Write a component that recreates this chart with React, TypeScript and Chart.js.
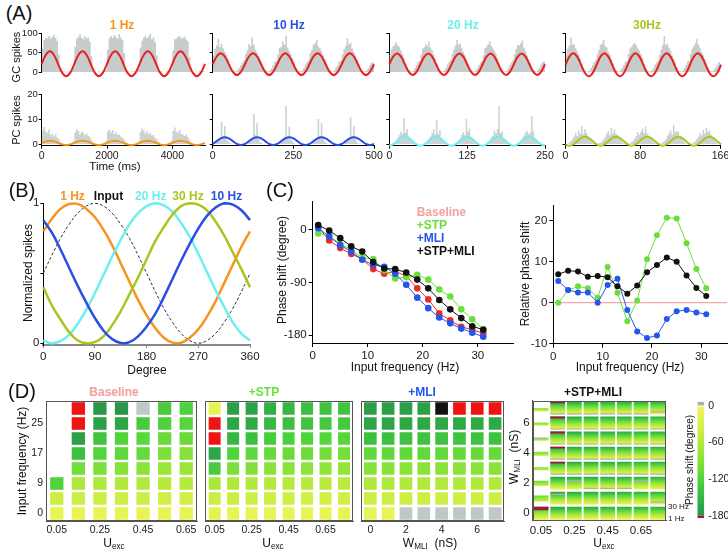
import React, { useEffect, useRef } from 'react';
import { Chart, registerables } from 'chart.js';

Chart.register(...registerables);
const FONT = '"Liberation Sans", Arial, Helvetica, sans-serif';
Chart.defaults.font.family = FONT;
Chart.defaults.color = '#1a1a1a';

const ORANGE = '#F7941D';
const BLUE = '#2A4FE4';
const CYAN = '#6EEFEF';
const OLIVE = '#A8C61F';
const RED = '#E8231F';
const SALMON = '#F4A0A0';
const GREEN = '#6ADF3A';
const CBLUE = '#2456EE';
const GRAYH = '#C6CCCC';

/* ================= Panel A data ================= */
const aTitles = ['1 Hz', '10 Hz', '20 Hz', '30Hz'];
const aColors = [ORANGE, BLUE, CYAN, OLIVE];
const aFreqHz = [1, 10, 20, 30];
const aWindowMs = [5000, 500, 250, 166];
const aTimeTicks = [[0, 2000, 4000], [0, 250, 500], [0, 125, 250], [0, 80, 166]];
const aGcTicks = [0, 50, 100];
const aPcTicks = [0, 10, 20];

// fitted GC sine (sampled every 1/8 cycle)
const gcSine1Hz = [21,43.6,53,43.6,21,-1.6,-11,-1.6,21,43.6,53,43.6,21,-1.6,-11,-1.6,21,43.6,53,43.6,21,-1.6,-11,-1.6,21,43.6,53,43.6,21,-1.6,-11,-1.6,21,43.6,53,43.6,21,-1.6,-11,-1.6,21];
const gcSine10Hz = [20,39.8,48,39.8,20,0.2,-8,0.2,20,39.8,48,39.8,20,0.2,-8,0.2,20,39.8,48,39.8,20,0.2,-8,0.2,20,39.8,48,39.8,20,0.2,-8,0.2,20,39.8,48,39.8,20,0.2,-8,0.2,20];
const gcSine20Hz = [20,39.5,47.5,39.5,20,0.5,-7.5,0.5,20,39.5,47.5,39.5,20,0.5,-7.5,0.5,20,39.5,47.5,39.5,20,0.5,-7.5,0.5,20,39.5,47.5,39.5,20,0.5,-7.5,0.5,20,39.5,47.5,39.5,20,0.5,-7.5,0.5,20];
const gcSine30Hz = [18.5,39.4,48,39.4,18.5,-2.4,-11,-2.4,18.5,39.4,48,39.4,18.5,-2.4,-11,-2.4,18.5,39.4,48,39.4,18.5,-2.4,-11,-2.4,18.5,39.4,48,39.4,18.5,-2.4,-11,-2.4,18.5,39.4,48,39.4,18.5,-2.4,-11,-2.4,18.5];
// fitted PC sine
const pcSine1Hz = [0.45,1.05,1.3,1.05,0.45,-0.15,-0.4,-0.15,0.45,1.05,1.3,1.05,0.45,-0.15,-0.4,-0.15,0.45,1.05,1.3,1.05,0.45,-0.15,-0.4,-0.15,0.45,1.05,1.3,1.05,0.45,-0.15,-0.4,-0.15,0.45,1.05,1.3,1.05,0.45,-0.15,-0.4,-0.15,0.45];
const pcSine10Hz = [0.05,1.15,2.25,2.7,2.25,1.15,0.05,-0.4,0.05,1.15,2.25,2.7,2.25,1.15,0.05,-0.4,0.05,1.15,2.25,2.7,2.25,1.15,0.05,-0.4,0.05,1.15,2.25,2.7,2.25,1.15,0.05,-0.4,0.05,1.15,2.25,2.7,2.25,1.15,0.05,-0.4,0.05];
const pcSine20Hz = [-0.7,-0.17,1.1,2.37,2.9,2.37,1.1,-0.17,-0.7,-0.17,1.1,2.37,2.9,2.37,1.1,-0.17,-0.7,-0.17,1.1,2.37,2.9,2.37,1.1,-0.17,-0.7,-0.17,1.1,2.37,2.9,2.37,1.1,-0.17,-0.7,-0.17,1.1,2.37,2.9,2.37,1.1,-0.17,-0.7];
const pcSine30Hz = [-0.17,-0.7,-0.17,1.1,2.37,2.9,2.37,1.1,-0.17,-0.7,-0.17,1.1,2.37,2.9,2.37,1.1,-0.17,-0.7,-0.17,1.1,2.37,2.9,2.37,1.1,-0.17,-0.7,-0.17,1.1,2.37,2.9,2.37,1.1,-0.17,-0.7,-0.17,1.1,2.37,2.9,2.37,1.1,-0.17];

// spike histograms (20 bins per cycle)
const gcHist1Hz = [
8,60,82,88,86,92,85,90,94,87,80,45,6,2,1,1,0,1,2,3,
10,65,85,90,97,88,84,92,86,90,78,40,4,1,0,1,1,0,2,3,
6,58,88,92,87,95,90,85,97,88,82,48,8,2,1,0,1,1,1,2,
9,62,80,87,93,86,91,98,84,89,76,42,5,1,1,0,0,1,2,3,
7,55,84,86,90,92,85,88,91,83,79,38,6,1,0,1,0,1,2,2];
const gcHist10Hz = [
28,42,60,68,85,64,72,60,52,44,33,20,10,5,2,2,5,11,18,24,
30,46,55,72,66,88,70,58,50,41,30,21,12,6,3,1,4,9,17,26,
27,44,62,65,78,70,92,63,54,46,36,24,13,6,2,2,4,10,19,25,
31,48,57,70,74,83,66,61,53,43,34,22,11,5,3,1,5,12,18,27,
29,45,59,67,86,71,75,60,51,42,32,19,10,4,2,2,4,10,17,24];
const gcHist20Hz = [
30,45,58,66,70,77,68,64,55,46,35,22,12,6,3,2,4,10,18,25,
28,44,60,64,72,66,78,62,56,45,34,21,11,5,2,2,5,11,19,26,
31,47,57,68,82,70,74,63,52,44,33,20,10,5,3,1,4,9,17,24,
29,43,61,65,71,79,67,60,54,47,36,23,12,6,2,2,4,10,18,25,
30,46,59,70,68,74,80,62,53,43,32,21,11,4,3,1,5,11,19,26];
const gcHist30Hz = [
29,44,60,67,88,70,72,61,53,44,34,21,11,5,2,2,4,10,18,25,
31,45,57,69,73,82,66,63,52,45,33,22,12,6,3,1,5,11,17,26,
28,46,61,64,71,75,68,60,55,46,35,20,10,5,2,2,4,9,19,24,
30,43,58,70,92,69,73,62,54,43,32,23,11,4,3,1,4,10,18,27,
29,47,60,66,74,85,70,61,51,44,34,21,12,6,2,2,5,11,17,25];
const pcHist1Hz = [
1.2,5.5,6.8,5,4.5,5.8,3.6,4.2,3,4,2.6,2,0.8,0.2,0,0,0,0,0,0.2,
1,4.6,6,5.2,3.8,5,4.4,3.5,4.2,3.2,2.8,1.6,0.6,0,0,0,0,0,0.1,0.3,
1.4,5,5.8,4.6,5.5,4,4.8,3.6,3.8,3,2.5,1.8,0.7,0.1,0,0,0,0,0,0.2,
1.1,4.8,6.2,5.4,4.2,5.2,3.8,4.5,3.4,3.6,2.4,1.9,0.9,0,0,0,0,0,0.1,0.2,
1.3,5.2,6.6,4.8,4.6,5.6,4,3.8,3.2,3.8,2.7,1.7,0.6,0.1,0,0,0,0,0,0.2];
const pcHist10Hz = [
0,0,0.3,0.8,1.5,2,8.9,3,7.2,2.2,1,0.5,0.2,0,0,0,0,0,0,0,
0,0,0.2,1,1.8,2.5,12,3.5,8.3,2,0.8,0.4,0,0,0,0,0,0,0,0,
0,0,0.4,0.7,2,3,15.2,2.8,7,1.8,1.2,0.3,0.1,0,0,0,0,0,0,0,
0,0.1,0.3,0.9,1.6,2.4,10,3.2,8.3,2.5,1,0.4,0,0,0,0,0,0,0,0,
0,0,0.2,0.8,1.4,2.6,10.7,3,7.2,2,0.9,0.3,0.1,0,0,0,0,0,0,0];
const pcHist20Hz = [
0,0,0,0.3,0.8,1.5,2.5,3.5,5,4,10.3,4.5,6,3,2,1,0.5,0.2,0,0,
0,0,0,0.2,0.6,1.2,2,3,4.5,6,3.8,9.5,4,5.5,2.5,1.2,0.4,0.1,0,0,
0,0,0,0.3,0.7,1.4,2.2,3.6,4.8,3.5,10,5,6.2,2.8,1.8,0.8,0.3,0,0,0,
0,0,0,0.2,0.9,1.6,2.6,3.2,5.5,4.2,6,15.2,4.4,5,2.2,1.1,0.5,0.1,0,0,
0,0,0.1,0.3,0.7,1.3,2.3,3.4,4.6,5.2,3.9,4.6,11.2,5.2,2.6,1.2,0.4,0.1,0,0];
const pcHist30Hz = [
0,0,0.2,0.6,1.2,2,3,4.5,3.2,5.5,4,7.2,3.8,6,4.5,3,2.2,1,0.4,0.1,
0,0.1,0.3,0.5,1,1.8,2.8,4,5.2,3.5,6.5,4.2,5.8,4,3.6,2.6,1.6,0.8,0.3,0,
0,0,0.2,0.7,1.3,2.2,3.2,4.8,3.6,5,6.2,4.4,7,4.2,3.4,2.8,1.8,0.9,0.3,0.1,
0,0.1,0.2,0.6,1.1,1.9,3.1,4.2,5.4,3.8,7.6,4.6,5.2,4.8,3.2,2.4,1.5,0.7,0.2,0,
0,0,0.3,0.5,1.2,2.1,2.9,4.4,3.4,5.6,4.2,6.4,4.8,5.5,3.8,2.9,1.7,0.8,0.3,0.1];

const gcSines = [gcSine1Hz, gcSine10Hz, gcSine20Hz, gcSine30Hz];
const pcSines = [pcSine1Hz, pcSine10Hz, pcSine20Hz, pcSine30Hz];
const gcHists = [gcHist1Hz, gcHist10Hz, gcHist20Hz, gcHist30Hz];
const pcHists = [pcHist1Hz, pcHist10Hz, pcHist20Hz, pcHist30Hz];

/* ================= Panel B data ================= */
const bDegree = [0,15,30,45,60,75,90,105,120,135,150,165,180,195,210,225,240,255,270,285,300,315,330,345,360];
const b1Hz = [0.8,0.89,0.96,0.995,0.996,0.96,0.9,0.81,0.7,0.57,0.44,0.31,0.2,0.11,0.04,0.005,0.004,0.04,0.1,0.19,0.3,0.43,0.56,0.69,0.8];
const bInput = [0.5,0.63,0.75,0.85,0.93,0.98,1,0.98,0.93,0.85,0.75,0.63,0.5,0.37,0.25,0.15,0.07,0.02,0,0.02,0.07,0.15,0.25,0.37,0.5];
const b20Hz = [0.02,0,0.015,0.06,0.14,0.24,0.36,0.49,0.62,0.74,0.85,0.93,0.98,1,0.985,0.94,0.86,0.76,0.64,0.51,0.38,0.26,0.15,0.07,0.02];
const b30Hz = [0.4,0.27,0.17,0.08,0.02,0,0.01,0.05,0.13,0.23,0.35,0.47,0.6,0.73,0.83,0.92,0.98,1,0.99,0.95,0.87,0.77,0.65,0.53,0.4];
const b10Hz = [0.88,0.79,0.67,0.54,0.41,0.29,0.18,0.09,0.03,0.002,0.008,0.05,0.12,0.21,0.33,0.46,0.59,0.71,0.82,0.91,0.97,1,0.99,0.95,0.88];
const bDegTicks = [0, 90, 180, 270, 360];

/* ================= Panel C data ================= */
const cFreq = [1,3,5,7,9,11,13,15,17,19,21,23,25,27,29,31];
const phaseBaseline = [5,-18,-31,-41,-50,-67,-75,-71,-79,-100,-119,-143,-155,-166,-171,-177];
const phaseSTP = [-6,-10,-24,-34,-47,-50,-69,-83,-81,-77,-85,-102,-114,-136,-153,-170];
const phaseMLI = [3,-11,-26,-37,-51,-60,-63,-75,-94,-116,-134,-150,-160,-169,-176,-183];
const phaseBoth = [8.6,-1,-14,-28,-37,-55,-66,-67,-73,-85,-100,-120,-136,-151,-165,-171];
const relSTP = [0,3,4,3.5,1.2,8.7,2.4,-4.5,0.5,10.6,16.4,20.7,20.5,14.5,8.2,3.5];
const relMLI = [5.3,3.1,2.5,2.5,0,4.3,5.8,-1.8,-7,-8.6,-8,-4,-2.1,-1.8,-2.4,-2.8];
const relBoth = [6.9,7.8,7.6,6.3,6.5,6.2,4,2.2,4.2,7.4,9.2,11,10,6.6,3.6,1.6];
const relBaseline = 0;
const cFreqTicks = [0, 10, 20, 30];
const cPhaseTicks = [-180, -90, 0];
const cRelTicks = [-10, 0, 10, 20];
const cRelRange = [0, 35.2];

/* ================= Panel D data ================= */
// phase shift (degree); rows from 29 Hz (top) to 1 Hz (bottom); 'R' red, 'G' gray, 'K' black, null empty
const dUexc = ['0.05','0.15','0.25','0.35','0.45','0.55','0.65','0.75'];
const dWmli = ['0','1','2','3','4','5','6','7'];
const dFreqLabels = ['0','5','9','13','17','21','25','29'];
const dLabelIdx = [0, 2, 4, 6];
const heatBaseline = [
  [null,'R',-178,-180,'G',-128,-122],
  [null,'R',-170,-165,-128,-122,-116],
  [null,-170,-135,-120,-114,-105,-105],
  [null,-140,-118,-112,-108,-95,-90],
  [null,-100,-95,-90,-85,-75,-75],
  [-120,-65,-65,-62,-62,-58,-58],
  [-40,-40,-40,-38,-38,-35,-35],
  [-10,-12,-12,-12,-10,-10,-10],
];
const heatSTP = [
  [-14,-172,-168,-155,-148,-142,-138,-135],
  ['R',-165,-160,-145,-140,-136,-132,-130],
  ['R',-148,-140,-128,-124,-120,-118,-116],
  [-165,-120,-112,-106,-104,-102,-100,-98],
  [-128,-96,-92,-88,-86,-84,-82,-80],
  [-68,-64,-62,-60,-59,-58,-57,-56],
  [-42,-40,-39,-38,-37,-36,-35,-35],
  [-15,-12,-12,-12,-11,-11,-10,-10],
];
const heatMLI = [
  [-172,-172,-170,-170,'K','R','R','R'],
  [-164,-164,-163,-163,-163,-162,-162,-162],
  [-140,-140,-138,-138,-138,-137,-137,-137],
  [-112,-110,-110,-110,-110,-108,-108,-108],
  [-88,-88,-87,-87,-87,-86,-86,-86],
  [-64,-63,-62,-62,-62,-62,-61,-61],
  [-40,-40,-39,-39,-39,-38,-38,-38],
  [-12,-12,'G','G','G','G','G','G'],
];
// +STP+MLI: per-cell phase gradient from 1 Hz (bottom) to 30 Hz (top)
const stpMliTop = [-150,-172,-168,-166,-165,-163,-160,-158];
const stpMliBottom = [-10,-8,-8,-8,-8,-8,-8,-8];
// filled span (fraction of cell, from bottom) of U=0.05 column, rows W=7..0
const stpMliCol0Span = [[0.25,0.5],[0.3,0.55],[0.3,0.5],[0.3,0.6],[0.33,0.57],[0.3,0.68],[0.25,0.7],[0,1]];
// dark-red (< -180) strip at the cell top: [column, W, fraction]
const stpMliRed = [[1,7,0.14],[1,6,0.14],[1,5,0.14],[1,4,0.14],[1,3,0.14],[0,0,0.28]];
// gray (positive) line position inside each cell, rows W=7..0 (0 = none)
const stpMliGray = [
  [0,0.04,0.04,0.04,0.04,0.04,0.04,0.2],
  [0,0.04,0.04,0.04,0.04,0.04,0.04,0.04],
  [0.5,0.04,0.04,0.04,0.04,0.04,0.04,0.04],
  [0,0.04,0.04,0.04,0.04,0.04,0.04,0.04],
  [0,0.04,0.04,0.04,0.04,0.04,0.04,0.04],
  [0,0,0.68,0.1,0.1,0.1,0.68,0],
  [0,0.8,0,0,0,0,0,0.2],
  [0,0,0,0,0,0,0,0],
];
const cbRange = [-180, 0];
const cbTicks = [0, -60, -120, -180];
const cbOver = [0, 6.9];
const cbUnder = [-183.7, -180];

/* ================= colour map ================= */
const cmapStops = [0, -30, -60, -90, -120, -150, -180];
const cmapColors = [[242,246,90],[216,240,72],[180,234,60],[132,226,56],[80,212,60],[52,180,68],[40,150,74]];
function cmap(v: number) {
  const t = Math.max(-180, Math.min(0, v));
  for (let i = 0; i < cmapStops.length - 1; i++) {
    const a = cmapStops[i], b = cmapStops[i + 1];
    if (t <= a && t >= b) {
      const k = (a - t) / (a - b);
      const ca = cmapColors[i], cb = cmapColors[i + 1];
      return `rgb(${Math.round(ca[0] + (cb[0] - ca[0]) * k)},${Math.round(ca[1] + (cb[1] - ca[1]) * k)},${Math.round(ca[2] + (cb[2] - ca[2]) * k)})`;
    }
  }
  return 'rgb(40,150,74)';
}
const cellColor = (v: any) => (v === 'R' ? '#EE1414' : v === 'K' ? '#111111' : v === 'G' ? '#BEC8C8' : cmap(v));

const gradFill = (ctx: any) => {
  const ch = ctx.chart;
  const raw = ctx.raw;
  if (!raw || !ch.chartArea || !ch.scales || !ch.scales.y) return 'rgba(0,0,0,0)';
  const ys = ch.scales.y;
  const p0 = ys.getPixelForValue(raw.y[0]);
  const p1 = ys.getPixelForValue(raw.y[1]);
  if (!isFinite(p0) || !isFinite(p1) || Math.abs(p0 - p1) < 0.01) return cmap(raw.v0);
  const g = ch.ctx.createLinearGradient(0, p0, 0, p1);
  for (let k = 0; k <= 8; k++) {
    const t = k / 8;
    g.addColorStop(t, cmap(raw.v0 + (raw.v1 - raw.v0) * t));
  }
  return g;
};

/* ================= helpers ================= */
type Rect = { l: number; t: number; r: number; b: number };

function frameFor(plot: Rect, pad: Rect) {
  const cl = Math.floor(plot.l - pad.l);
  const ct = Math.floor(plot.t - pad.t);
  const cr = Math.ceil(plot.r + pad.r);
  const cb = Math.ceil(plot.b + pad.b);
  return { cl, ct, cw: cr - cl, ch: cb - ct, left: plot.l - cl, top: plot.t - ct, right: cr - plot.r, bottom: cb - plot.b };
}

function axis(o: any) {
  const tickLen = o.tickLen ?? 4;
  return {
    type: 'linear',
    display: o.display !== false,
    position: o.pos ?? (o.isX ? 'bottom' : 'left'),
    min: o.min,
    max: o.max,
    offset: false,
    afterBuildTicks: o.ticks ? (s: any) => { s.ticks = o.ticks.map((v: number) => ({ value: v })); } : undefined,
    afterFit: (s: any) => {
      if (o.isX) s.height = o.size; else s.width = o.size;
      s.paddingLeft = 0; s.paddingRight = 0; s.paddingTop = 0; s.paddingBottom = 0;
    },
    grid: { display: true, drawOnChartArea: false, drawTicks: tickLen > 0, tickLength: tickLen, color: o.border ?? '#000', lineWidth: 1, offset: false },
    border: { display: o.borderShow !== false, color: o.border ?? '#000', width: o.borderW ?? 1 },
    ticks: {
      autoSkip: false, maxRotation: 0, minRotation: 0, padding: o.tickPad ?? 2, color: '#1a1a1a',
      font: { size: o.font ?? 11, family: FONT },
      callback: (v: number) => (o.label ? o.label(v) : String(v)),
    },
  };
}

function buildConfig(spec: any, f: any) {
  const x = spec.x, y = spec.y;
  const yRight = y.pos === 'right';
  const xShow = x.display !== false;
  const yShow = y.display !== false;
  const padding = {
    left: yShow && !yRight ? 0 : f.left,
    right: yShow && yRight ? 0 : f.right,
    top: f.top,
    bottom: xShow ? 0 : f.bottom,
  };
  return {
    type: spec.type,
    data: { datasets: spec.datasets },
    options: {
      responsive: false, maintainAspectRatio: false, animation: false, events: [],
      layout: { autoPadding: false, padding },
      plugins: { legend: { display: false }, tooltip: { enabled: false }, title: { display: false } },
      scales: {
        x: axis({ ...x, isX: true, size: f.bottom }),
        y: axis({ ...y, isX: false, size: yRight ? f.right : f.left }),
      },
    },
    plugins: spec.plugins || [],
  };
}

const framePlugin = {
  id: 'frameBox',
  afterDraw(chart: any) {
    const { ctx, chartArea: a } = chart;
    ctx.save();
    ctx.strokeStyle = '#555';
    ctx.lineWidth = 1;
    ctx.strokeRect(Math.round(a.left) + 0.5, Math.round(a.top) + 0.5, Math.round(a.right - a.left) - 1, Math.round(a.bottom - a.top) - 1);
    ctx.restore();
  },
};

const sineDs = (vals: number[], f: number, color: string) => ({
  type: 'line', data: vals.map((y, i) => ({ x: (i * 1000) / f / 8, y })),
  borderColor: color, borderWidth: 2, pointRadius: 0, tension: 0.4, fill: false, clip: false,
});
const histDs = (vals: number[], f: number, color: string) => {
  const bw = 1000 / f / 20;
  const pts = vals.map((y, i) => ({ x: i * bw, y }));
  pts.push({ x: vals.length * bw, y: vals[vals.length - 1] });
  return { type: 'line', data: pts, stepped: 'after', borderColor: 'rgba(0,0,0,0)', borderWidth: 0, backgroundColor: color, fill: 'origin', pointRadius: 0 };
};
const bDs = (vals: number[], color: string, w: number, dash?: number[]) => ({
  type: 'line', data: bDegree.map((x, i) => ({ x, y: vals[i] })), borderColor: color, borderWidth: w,
  borderDash: dash || [], pointRadius: 0, tension: 0.4, fill: false, clip: false,
});
const cDs = (vals: number[], color: string, r: number) => ({
  type: 'line', data: cFreq.map((x, i) => ({ x, y: vals[i] })), borderColor: color, backgroundColor: color,
  borderWidth: 1, pointRadius: r, pointBorderWidth: 0, tension: 0, fill: false, clip: false,
});
function heatCells(matrix: any[][]) {
  const out: any[] = [];
  const n = matrix.length;
  matrix.forEach((row, r) => row.forEach((v, c) => {
    if (v === null) return;
    const yi = n - 1 - r;
    out.push({ x: c, y: [yi - 0.42, yi + 0.42], v });
  }));
  return out;
}
const heatDs = (matrix: any[][], w: number) => ({
  type: 'bar', data: heatCells(matrix), backgroundColor: (ctx: any) => (ctx.raw ? cellColor(ctx.raw.v) : '#fff'),
  borderWidth: 0, grouped: false, barThickness: w, inflateAmount: 0,
});
function stpMliDatasets(w: number) {
  const cells: any[] = [];
  const reds: any[] = [];
  const grays: any[] = [];
  const H = 0.86;
  for (let r = 0; r < 8; r++) {
    const yi = 7 - r;
    const lo0 = yi - H / 2;
    for (let c = 0; c < 8; c++) {
      const span = c === 0 ? stpMliCol0Span[r] : [0, 1];
      const top = stpMliTop[c], bot = stpMliBottom[c];
      cells.push({ x: c, y: [lo0 + H * span[0], lo0 + H * span[1]], v0: bot + (top - bot) * span[0], v1: bot + (top - bot) * span[1] });
      const g = stpMliGray[r][c];
      if (g > 0) grays.push({ x: c, y: [lo0 + H * g - 0.04, lo0 + H * g + 0.04] });
    }
  }
  stpMliRed.forEach(([c, wv, fr]) => {
    const hi = wv + H / 2;
    reds.push({ x: c, y: [hi - H * fr, hi] });
  });
  const base = { type: 'bar', borderWidth: 0, grouped: false, barThickness: w, inflateAmount: 0 };
  return [
    { ...base, data: reds, backgroundColor: '#A3193A' },
    { ...base, data: grays, backgroundColor: '#A9B3B3' },
    { ...base, data: cells, backgroundColor: gradFill },
  ];
}

/* ================= layout ================= */
const aPlotL = [41.7, 212.7, 389.3, 565.5];
const aPlotR = [205, 374, 545, 720.5];

const SPECS: any[] = [];
for (let i = 0; i < 4; i++) {
  SPECS.push({
    plot: { l: aPlotL[i], t: 33, r: aPlotR[i], b: 80 },
    pad: { l: i === 0 ? 32 : 8, t: 6, r: 4, b: 8 },
    build: () => ({
      type: 'line',
      datasets: [sineDs(gcSines[i], aFreqHz[i], RED), histDs(gcHists[i], aFreqHz[i], GRAYH)],
      x: { display: false, min: 0, max: aWindowMs[i] },
      y: { min: 0, max: 100, ticks: aGcTicks, tickLen: 3, tickPad: 1, font: 9.5, label: i === 0 ? (v: number) => String(v) : () => '' },
    }),
  });
  SPECS.push({
    plot: { l: aPlotL[i], t: 94, r: aPlotR[i], b: 145.75 },
    pad: { l: i === 0 ? 32 : 8, t: 6, r: 14, b: 20 },
    build: () => ({
      type: 'line',
      datasets: [sineDs(pcSines[i], aFreqHz[i], aColors[i]), histDs(pcHists[i], aFreqHz[i], '#CCD2D2')],
      x: { min: 0, max: aWindowMs[i], ticks: aTimeTicks[i], tickLen: 3, tickPad: 1, font: 10.5 },
      y: { min: -0.7, max: 20, ticks: aPcTicks, tickLen: 3, tickPad: 1, font: 9.5, label: i === 0 ? (v: number) => String(v) : () => '' },
    }),
  });
}
SPECS.push({
  plot: { l: 43.3, t: 203.3, r: 250, b: 345 },
  pad: { l: 32, t: 8, r: 14, b: 24 },
  build: () => ({
    type: 'line',
    datasets: [bDs(b10Hz, BLUE, 2.5), bDs(b30Hz, OLIVE, 2.5), bDs(b20Hz, CYAN, 2.5), bDs(b1Hz, ORANGE, 2.5), bDs(bInput, '#333', 1, [3, 2])],
    x: { min: 0, max: 360, ticks: bDegTicks, font: 11.5, tickLen: 3, tickPad: 2, border: '#888', borderW: 2 },
    y: { min: -0.012, max: 1, ticks: [0, 0.5, 1], font: 11.5, tickLen: 3, tickPad: 1, label: (v: number) => (v === 0.5 ? '' : String(v)) },
  }),
});
SPECS.push({
  plot: { l: 312.7, t: 201.7, r: 513, b: 343 },
  pad: { l: 36, t: 6, r: 6, b: 22 },
  build: () => ({
    type: 'line',
    datasets: [cDs(phaseBoth, '#111', 3.3), cDs(phaseMLI, CBLUE, 3.3), cDs(phaseSTP, GREEN, 3.3), cDs(phaseBaseline, '#EE2A24', 3.3)],
    x: { min: 0, max: 36.4, ticks: cFreqTicks, font: 11.5, tickLen: 4, tickPad: 2 },
    y: { min: -193.7, max: 48.5, ticks: cPhaseTicks, font: 11.5, tickLen: 4, tickPad: 2 },
  }),
});
SPECS.push({
  plot: { l: 553.3, t: 205, r: 727, b: 343.7 },
  pad: { l: 30, t: 6, r: 1, b: 22 },
  build: () => ({
    type: 'line',
    datasets: [
      cDs(relBoth, '#111', 3), cDs(relMLI, CBLUE, 3), cDs(relSTP, GREEN, 3),
      { type: 'line', data: cRelRange.map((x) => ({ x, y: relBaseline })), borderColor: '#F6A8A8', borderWidth: 1.2, pointRadius: 0, fill: false },
    ],
    x: { min: cRelRange[0], max: cRelRange[1], ticks: cFreqTicks, font: 11.5, tickLen: 4, tickPad: 2 },
    y: { min: -10, max: 23.8, ticks: cRelTicks, font: 11.5, tickLen: 4, tickPad: 2 },
  }),
});
SPECS.push({
  plot: { l: 46, t: 401, r: 197, b: 521 },
  pad: { l: 30, t: 2, r: 2, b: 22 },
  build: () => ({
    type: 'bar',
    datasets: [heatDs(heatBaseline, 13.3)],
    x: { min: -0.5, max: 6.5, ticks: dLabelIdx, label: (v: number) => dUexc[v], font: 10.5, tickLen: 0, tickPad: 3, border: '#555' },
    y: { min: -0.5, max: 7.5, ticks: dLabelIdx, label: (v: number) => dFreqLabels[v], font: 10.5, tickLen: 0, tickPad: 3, border: '#555' },
    plugins: [framePlugin],
  }),
});
SPECS.push({
  plot: { l: 201.7, t: 401, r: 353.3, b: 521 },
  pad: { l: 3, t: 2, r: 2, b: 22 },
  build: () => ({
    type: 'bar',
    datasets: [heatDs(heatSTP, 12)],
    x: { min: -0.5, max: 7.5, ticks: dLabelIdx, label: (v: number) => dUexc[v], font: 10.5, tickLen: 0, tickPad: 3, border: '#555' },
    y: { display: false, min: -0.5, max: 7.5 },
    plugins: [framePlugin],
  }),
});
SPECS.push({
  plot: { l: 357.7, t: 401, r: 504, b: 521 },
  pad: { l: 3, t: 2, r: 2, b: 22 },
  build: () => ({
    type: 'bar',
    datasets: [heatDs(heatMLI, 12.7)],
    x: { min: -0.5, max: 7.5, ticks: dLabelIdx, label: (v: number) => dWmli[v], font: 10.5, tickLen: 0, tickPad: 3, border: '#555' },
    y: { display: false, min: -0.5, max: 7.5 },
    plugins: [framePlugin],
  }),
});
SPECS.push({
  plot: { l: 532.7, t: 400.5, r: 666, b: 520.7 },
  pad: { l: 14, t: 2, r: 2, b: 22 },
  build: () => ({
    type: 'bar',
    datasets: stpMliDatasets(14.8),
    x: { min: -0.5, max: 7.5, ticks: dLabelIdx, label: (v: number) => dUexc[v], font: 11.5, tickLen: 0, tickPad: 3, border: '#555' },
    y: { min: -0.5, max: 7.5, ticks: dLabelIdx, label: (v: number) => dWmli[v], font: 11.5, tickLen: 0, tickPad: 3, border: '#555' },
    plugins: [framePlugin],
  }),
});
SPECS.push({
  plot: { l: 697.3, t: 401.7, r: 704.3, b: 520 },
  pad: { l: 1, t: 2, r: 23.7, b: 2 },
  build: () => ({
    type: 'bar',
    datasets: [
      { type: 'bar', data: [{ x: 0, y: cbOver }], backgroundColor: '#A9B5B5', borderWidth: 0, grouped: false, barThickness: 7, inflateAmount: 0 },
      { type: 'bar', data: [{ x: 0, y: cbUnder }], backgroundColor: '#A3193A', borderWidth: 0, grouped: false, barThickness: 7, inflateAmount: 0 },
      { type: 'bar', data: [{ x: 0, y: cbRange, v0: cbRange[0], v1: cbRange[1] }], backgroundColor: gradFill, borderWidth: 0, grouped: false, barThickness: 7, inflateAmount: 0 },
    ],
    x: { display: false, min: -0.5, max: 0.5 },
    y: { pos: 'right', min: -183.7, max: 6.9, ticks: cbTicks, font: 10.5, tickLen: 0, tickPad: 4, borderShow: false },
  }),
});
const FRAMES = SPECS.map((s) => frameFor(s.plot, s.pad));

/* ================= text ================= */
function T(p: any) {
  const { x, y, s = 12, c = '#111', b = false, rot = false, left = false, children } = p;
  const tr = left ? 'translate(0,-50%)' : 'translate(-50%,-50%)' + (rot ? ' rotate(-90deg)' : '');
  return (
    <div style={{ position: 'absolute', left: x, top: y, transform: tr, fontSize: s, fontWeight: b ? 700 : 400, color: c, whiteSpace: 'nowrap', lineHeight: 1, fontFamily: FONT }}>
      {children}
    </div>
  );
}
const Sub = (p: any) => <span style={{ fontSize: '0.68em', verticalAlign: '-0.3em' }}>{p.children}</span>;

export default function App() {
  const refs = useRef<(HTMLCanvasElement | null)[]>([]);
  useEffect(() => {
    const charts = SPECS.map((s, i) => {
      const cv = refs.current[i];
      if (!cv) return null;
      return new Chart(cv, buildConfig(s.build(), FRAMES[i]) as any);
    });
    return () => charts.forEach((c) => c && c.destroy());
  }, []);

  return (
    <div style={{ position: 'fixed', left: 0, top: 0, width: 728, height: 553, background: '#fff', overflow: 'hidden', fontFamily: FONT }}>
      {SPECS.map((s, i) => {
        const f = FRAMES[i];
        return (
          <canvas key={i} ref={(el) => { refs.current[i] = el; }} width={f.cw} height={f.ch}
            style={{ position: 'absolute', left: f.cl, top: f.ct, width: f.cw, height: f.ch }} />
        );
      })}
      {/* panel letters */}
      <T x={19} y={13} s={20}>(A)</T>
      <T x={22} y={190} s={20}>(B)</T>
      <T x={280} y={190} s={20}>(C)</T>
      <T x={22} y={391} s={20}>(D)</T>
      {/* panel A */}
      <T x={122} y={25} s={12} b c={aColors[0]}>{aTitles[0]}</T>
      <T x={289} y={25} s={12} b c={aColors[1]}>{aTitles[1]}</T>
      <T x={463} y={25} s={12} b c={aColors[2]}>{aTitles[2]}</T>
      <T x={647} y={25} s={12} b c={aColors[3]}>{aTitles[3]}</T>
      <T x={16} y={57} s={11} rot>GC spikes</T>
      <T x={16} y={120} s={11} rot>PC spikes</T>
      <T x={115} y={167} s={11.5}>Time (ms)</T>
      {/* panel B */}
      <T x={72.5} y={196} s={12} b c={ORANGE}>1 Hz</T>
      <T x={108.5} y={196} s={12} b c="#111">Input</T>
      <T x={150.8} y={196} s={12} b c={CYAN}>20 Hz</T>
      <T x={188} y={196} s={12} b c={OLIVE}>30 Hz</T>
      <T x={226.5} y={196} s={12} b c={BLUE}>10 Hz</T>
      <T x={28} y={273} s={12} rot>Normalized spikes</T>
      <T x={147} y={370} s={12}>Degree</T>
      {/* panel C */}
      <T x={416.7} y={212} s={12} b left c={SALMON}>Baseline</T>
      <T x={416.7} y={224.5} s={12} b left c={GREEN}>+STP</T>
      <T x={416.7} y={237.5} s={12} b left c={CBLUE}>+MLI</T>
      <T x={416.7} y={250.5} s={12} b left c="#111">+STP+MLI</T>
      <T x={282} y={270} s={12} rot>Phase shift (degree)</T>
      <T x={405} y={367} s={12}>Input frequency (Hz)</T>
      <T x={525} y={274} s={12} rot>Relative phase shift</T>
      <T x={630} y={367} s={12}>Input frequency (Hz)</T>
      {/* panel D */}
      <T x={114} y={392} s={12} b c={SALMON}>Baseline</T>
      <T x={264} y={392} s={12} b c={GREEN}>+STP</T>
      <T x={422} y={392} s={12} b c={CBLUE}>+MLI</T>
      <T x={593} y={392} s={12} b c="#111">+STP+MLI</T>
      <T x={22} y={461} s={12} rot>Input frequency (Hz)</T>
      <T x={114} y={544} s={12}>U<Sub>exc</Sub></T>
      <T x={273} y={544} s={12}>U<Sub>exc</Sub></T>
      <T x={430} y={544} s={12}>W<Sub>MLI</Sub>&nbsp; (nS)</T>
      <T x={604} y={544} s={12}>U<Sub>exc</Sub></T>
      <T x={515} y={457} s={12} rot>W<Sub>MLI</Sub>&nbsp; (nS)</T>
      <T x={668} y={507} s={8} left>30 Hz</T>
      <T x={668} y={519} s={8} left>1 Hz</T>
      <T x={690} y={460} s={10} rot>Phase shift (degree)</T>
    </div>
  );
}
